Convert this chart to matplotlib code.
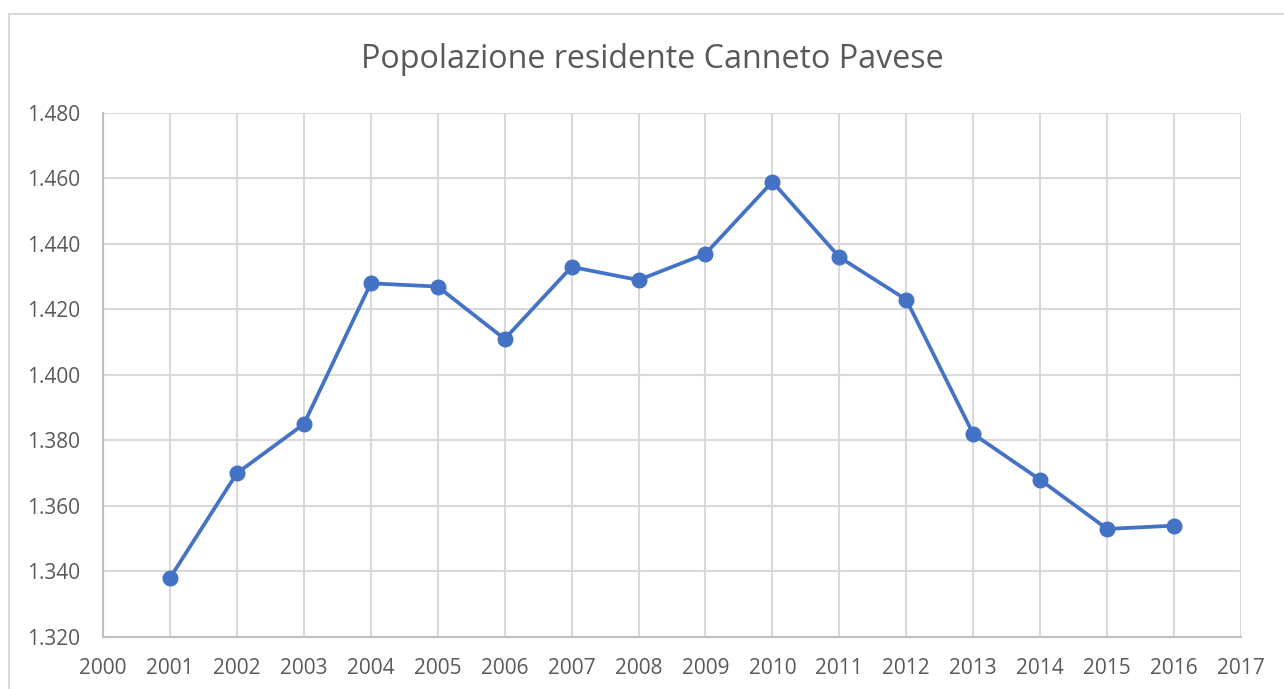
import matplotlib.pyplot as plt
import matplotlib.patches as patches
from matplotlib.ticker import FuncFormatter, MultipleLocator

years = [2001, 2002, 2003, 2004, 2005, 2006, 2007, 2008,
         2009, 2010, 2011, 2012, 2013, 2014, 2015, 2016]
residenti = [1338, 1370, 1385, 1428, 1427, 1411, 1433, 1429,
             1437, 1459, 1436, 1423, 1382, 1368, 1353, 1354]

plt.rcParams["font.family"] = ["Open Sans", "DejaVu Sans"]

fig = plt.figure(figsize=(12.84, 6.89), dpi=100)
ax = fig.add_axes([103 / 1284, 1 - 637 / 689, (1241 - 103) / 1284, (637 - 113) / 689])

# outer chart frame (cut by the image edges)
fig.patches.append(patches.Rectangle((9 / 1284, -0.05), 1.1, 1 - 14 / 689 + 0.05,
                                     transform=fig.transFigure, fill=False,
                                     edgecolor="#d9d9d9", linewidth=1.5))

ax.plot(years, residenti, color="#4472C4", linewidth=2.7, marker="o",
        markersize=10.5, zorder=3, clip_on=False)

ax.set_xlim(2000, 2017)
ax.set_ylim(1320, 1480)
ax.xaxis.set_major_locator(MultipleLocator(1))
ax.yaxis.set_major_locator(MultipleLocator(20))
ax.yaxis.set_major_formatter(FuncFormatter(lambda v, p: f"{int(v):,}".replace(",", ".")))

ax.grid(True, color="#d9d9d9", linewidth=1.5)
ax.set_axisbelow(True)
for s in ["top", "right"]:
    ax.spines[s].set_visible(False)
for s in ["left", "bottom"]:
    ax.spines[s].set_color("#bfbfbf")
    ax.spines[s].set_linewidth(1.5)
ax.tick_params(length=0, labelsize=15, colors="#595959")
ax.tick_params(axis="x", pad=15)
ax.tick_params(axis="y", pad=16.5)

fig.text(0.5 + 10 / 1284, 1 - 59 / 689, "Popolazione residente Canneto Pavese",
         ha="center", va="center", fontsize=23.2, color="#595959")

fig.savefig("out.png", dpi=100)
